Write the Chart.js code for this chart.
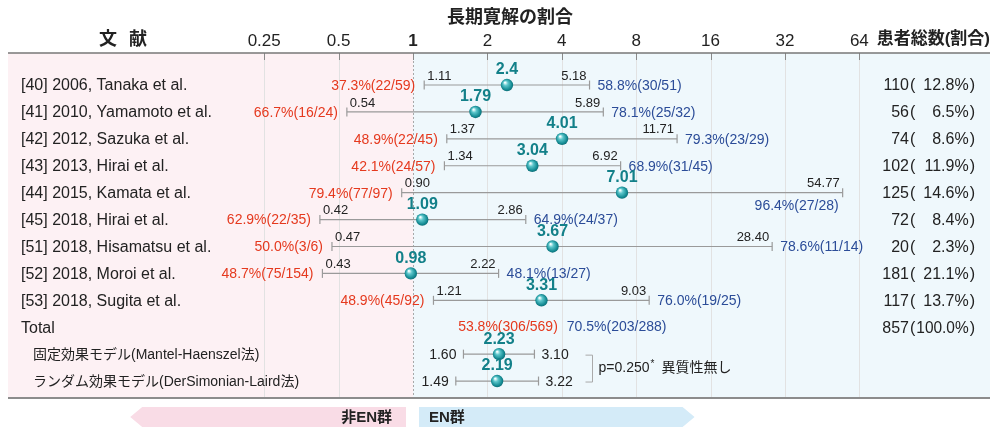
<!DOCTYPE html>
<html><head><meta charset="utf-8">
<script src="https://cdn.jsdelivr.net/npm/chart.js@4/dist/chart.umd.min.js"></script>
<style>html,body{margin:0;padding:0;background:#fff}canvas{display:block}</style>
</head><body>
<canvas id="c" width="1001" height="436"></canvas>
<script>
// ---- data ----
const studies = ['[40] 2006, Tanaka et al.', '[41] 2010, Yamamoto et al.', '[42] 2012, Sazuka et al.', '[43] 2013, Hirai et al.', '[44] 2015, Kamata et al.', '[45] 2018, Hirai et al.', '[51] 2018, Hisamatsu et al.', '[52] 2018, Moroi et al.', '[53] 2018, Sugita et al.'];
const oddsRatio = [2.4, 1.79, 4.01, 3.04, 7.01, 1.09, 3.67, 0.98, 3.31];
const ciLow = [1.11, 0.54, 1.37, 1.34, 0.90, 0.42, 0.47, 0.43, 1.21];
const ciHigh = [5.18, 5.89, 11.71, 6.92, 54.77, 2.86, 28.40, 2.22, 9.03];
const nonEnRate = ['37.3%(22/59)', '66.7%(16/24)', '48.9%(22/45)', '42.1%(24/57)', '79.4%(77/97)', '62.9%(22/35)', '50.0%(3/6)', '48.7%(75/154)', '48.9%(45/92)'];
const enRate = ['58.8%(30/51)', '78.1%(25/32)', '79.3%(23/29)', '68.9%(31/45)', '96.4%(27/28)', '64.9%(24/37)', '78.6%(11/14)', '48.1%(13/27)', '76.0%(19/25)'];
const patients = ['110', '56', '74', '102', '125', '72', '20', '181', '117'];
const patientShare = ['12.8%', '6.5%', '8.6%', '11.9%', '14.6%', '8.4%', '2.3%', '21.1%', '13.7%'];
const totalLabel = 'Total';
const totalPatients = '857';
const totalShare = '100.0%';
const totalNonEn = '53.8%(306/569)';
const totalEn = '70.5%(203/288)';
const models = ['固定効果モデル(Mantel-Haenszel法)', 'ランダム効果モデル(DerSimonian-Laird法)'];
const modelOR = [2.23, 2.19];
const modelLow = [1.60, 1.49];
const modelHigh = [3.10, 3.22];
const heterogeneity = 'p=0.250';
const heterogeneityNote = '異質性無し';
const xTicks = [0.25, 0.5, 1, 2, 4, 8, 16, 32, 64];
const title = '長期寛解の割合';
const colPatients = '患者総数(割合)';
const arrowLeft = '非EN群';
const arrowRight = 'EN群';

// ---- derived rows ----
const allOR = oddsRatio.concat(modelOR);
const allLow = ciLow.concat(modelLow);
const allHigh = ciHigh.concat(modelHigh);
const rowOf = i => (i < oddsRatio.length ? i : i + 1); // total row sits between studies and models
const totalRow = oddsRatio.length;

const FONT = '"Liberation Sans", "Noto Sans CJK JP", Arial, sans-serif';
const JFONT = '"Liberation Sans", "Noto Sans CJK JP", sans-serif';
const RED = '#e5391e', BLUE = '#2b4c98', TEAL = '#138089', INK = '#222';
const LINE = '#9a9a9a';

const datasets = [];
allOR.forEach((v, i) => {
  datasets.push({
    type: 'line', order: 3,
    data: [{x: allLow[i], y: rowOf(i)}, {x: allHigh[i], y: rowOf(i)}],
    borderColor: LINE, borderWidth: 1.2, pointRadius: 0, fill: false
  });
});
const caps = [];
allOR.forEach((v, i) => { caps.push({x: allLow[i], y: rowOf(i)}, {x: allHigh[i], y: rowOf(i)}); });
datasets.push({
  type: 'scatter', order: 2, data: caps,
  pointStyle: 'line', rotation: 90, pointRadius: 4.5, borderColor: LINE, borderWidth: 1.2
});
datasets.push({
  type: 'scatter', order: 1,
  data: allOR.map((v, i) => ({x: v, y: rowOf(i)})),
  pointRadius: 6.2, pointHoverRadius: 6.2, borderWidth: 0,
  backgroundColor: (ctx) => {
    const ch = ctx.chart;
    if (!ch.chartArea || !ctx.raw) return TEAL;
    const px = ch.scales.x.getPixelForValue(ctx.raw.x);
    const py = ch.scales.y.getPixelForValue(ctx.raw.y);
    const g = ch.ctx.createRadialGradient(px - 2, py - 2.5, 0.5, px, py, 7);
    g.addColorStop(0, '#f2ffff');
    g.addColorStop(0.3, '#5cc6cb');
    g.addColorStop(0.75, '#138a92');
    g.addColorStop(1, '#0a5f68');
    return g;
  }
});

const fmt2 = v => v.toFixed(2);

const deco = {
  id: 'deco',
  beforeDatasetsDraw(chart) {
    const {ctx, chartArea: a, scales: {x}} = chart;
    const one = x.getPixelForValue(1);
    ctx.save();
    ctx.fillStyle = '#fdf1f4';
    ctx.fillRect(a.left, a.top, one - a.left, a.bottom - a.top);
    ctx.fillStyle = '#eff8fc';
    ctx.fillRect(one, a.top, a.right - one, a.bottom - a.top);
    xTicks.forEach(t => {
      const px = Math.round(x.getPixelForValue(t)) + 0.5;
      ctx.beginPath();
      if (t === 1) { ctx.setLineDash([2, 2]); ctx.strokeStyle = '#a8a8a8'; }
      else { ctx.setLineDash([]); ctx.strokeStyle = '#e2e2e2'; }
      ctx.lineWidth = 1;
      ctx.moveTo(px, a.top); ctx.lineTo(px, a.bottom); ctx.stroke();
      ctx.setLineDash([]);
      ctx.strokeStyle = '#8a8a8a';
      ctx.beginPath(); ctx.moveTo(px, a.top); ctx.lineTo(px, a.top + 7); ctx.stroke();
    });
    ctx.strokeStyle = '#777'; ctx.lineWidth = 1.5;
    ctx.beginPath(); ctx.moveTo(a.left, a.top); ctx.lineTo(a.right, a.top); ctx.stroke();
    ctx.strokeStyle = '#8c8c8c'; ctx.lineWidth = 2;
    ctx.beginPath(); ctx.moveTo(a.left, a.bottom); ctx.lineTo(a.right, a.bottom); ctx.stroke();
    ctx.restore();
  },
  afterDatasetsDraw(chart) {
    const {ctx, chartArea: a, scales: {x, y}} = chart;
    ctx.save();
    ctx.textBaseline = 'middle';
    ctx.fillStyle = INK;
    ctx.font = 'bold 18px ' + JFONT; ctx.textAlign = 'center';
    ctx.fillText(title, 510, 18);
    ctx.fillText('文', 108, 40); ctx.fillText('献', 138, 40);
    ctx.font = 'bold 17px ' + JFONT; ctx.textAlign = 'right';
    ctx.fillText(colPatients, a.right, 39);
    ctx.textAlign = 'center';
    xTicks.forEach(t => {
      ctx.font = (t === 1 ? 'bold ' : '') + '17px ' + FONT;
      ctx.fillText(String(t), x.getPixelForValue(t), 41);
    });
    const parenX = a.right - 81, rightX = a.right - 15;
    const drawShare = (count, share, py) => {
      ctx.fillStyle = INK; ctx.font = '16px ' + FONT;
      ctx.textAlign = 'right'; ctx.fillText(count, parenX, py + 1);
      ctx.textAlign = 'left'; ctx.fillText('(', parenX + 1, py + 1);
      const lw = ctx.measureText('(').width;
      ctx.textAlign = 'right'; ctx.fillText(')', rightX, py + 1);
      const pw = ctx.measureText(')').width;
      const avail = (rightX - pw - 1) - (parenX + 1 + lw + 1);
      const sw = ctx.measureText(share).width;
      if (sw > avail) {
        const k = avail / sw;
        ctx.save();
        ctx.translate(rightX - pw - 1, py + 1);
        ctx.scale(k, 1);
        ctx.fillText(share, 0, 0);
        ctx.restore();
      } else {
        ctx.fillText(share, rightX - pw - 1, py + 1);
      }
    };
    studies.forEach((s, i) => {
      const py = y.getPixelForValue(rowOf(i));
      ctx.fillStyle = INK; ctx.font = '16px ' + FONT; ctx.textAlign = 'left';
      ctx.fillText(s, a.left + 13, py + 1);
      drawShare(patients[i], patientShare[i], py);
    });
    {
      const py = y.getPixelForValue(totalRow);
      ctx.fillStyle = INK; ctx.font = '16px ' + FONT; ctx.textAlign = 'left';
      ctx.fillText(totalLabel, a.left + 13, py + 1);
      drawShare(totalPatients, totalShare, py);
      const x4 = x.getPixelForValue(4);
      ctx.font = '14px ' + FONT;
      ctx.fillStyle = RED; ctx.textAlign = 'right'; ctx.fillText(totalNonEn, x4 - 4, py);
      ctx.fillStyle = BLUE; ctx.textAlign = 'left'; ctx.fillText(totalEn, x4 + 5, py);
    }
    models.forEach((m, k) => {
      const py = y.getPixelForValue(rowOf(oddsRatio.length + k));
      ctx.fillStyle = INK; ctx.font = '14px ' + JFONT; ctx.textAlign = 'left';
      ctx.fillText(m, a.left + 25, py + 1);
    });
    allOR.forEach((v, i) => {
      const py = y.getPixelForValue(rowOf(i));
      const pLo = x.getPixelForValue(allLow[i]);
      const pHi = x.getPixelForValue(allHigh[i]);
      const pV = x.getPixelForValue(v);
      ctx.fillStyle = TEAL; ctx.font = 'bold 16px ' + FONT; ctx.textAlign = 'center';
      ctx.fillText(String(v), pV, py - 15);
      ctx.fillStyle = INK; ctx.font = '13px ' + FONT;
      if (i < oddsRatio.length) {
        ctx.textAlign = 'left'; ctx.fillText(fmt2(allLow[i]), pLo + 3, py - 9);
        ctx.textAlign = 'right'; ctx.fillText(fmt2(allHigh[i]), pHi - 3, py - 9);
        ctx.font = '14px ' + FONT;
        ctx.fillStyle = RED; ctx.textAlign = 'right';
        ctx.fillText(nonEnRate[i], pLo - 9, py + 1);
        ctx.fillStyle = BLUE;
        const w = ctx.measureText(enRate[i]).width;
        if (pHi + 8 + w > a.right - 110) {
          ctx.textAlign = 'right'; ctx.fillText(enRate[i], pHi - 4, py + 13);
        } else {
          ctx.textAlign = 'left'; ctx.fillText(enRate[i], pHi + 8, py + 1);
        }
      } else {
        ctx.font = '14px ' + FONT;
        ctx.textAlign = 'right'; ctx.fillText(fmt2(allLow[i]), pLo - 7, py + 1);
        ctx.textAlign = 'left'; ctx.fillText(fmt2(allHigh[i]), pHi + 7, py + 1);
      }
    });
    {
      const y1 = y.getPixelForValue(rowOf(oddsRatio.length));
      const y2 = y.getPixelForValue(rowOf(oddsRatio.length + 1));
      const bx = Math.round(x.getPixelForValue(4) + 30) + 0.5;
      ctx.strokeStyle = '#aaa'; ctx.lineWidth = 1;
      ctx.beginPath(); ctx.moveTo(bx - 7, y1 + 1); ctx.lineTo(bx, y1 + 1); ctx.lineTo(bx, y2 + 1); ctx.lineTo(bx - 7, y2 + 1); ctx.stroke();
      const my = (y1 + y2) / 2 + 1;
      ctx.fillStyle = INK; ctx.textAlign = 'left'; ctx.font = '14px ' + FONT;
      ctx.fillText(heterogeneity, bx + 6, my);
      const w = ctx.measureText(heterogeneity).width;
      ctx.font = '10px ' + FONT; ctx.fillText('*', bx + 6 + w + 1, my - 4);
      ctx.font = '14px ' + JFONT; ctx.fillText(heterogeneityNote, bx + 6 + w + 12, my);
    }
    ctx.restore();
  },
  afterDraw(chart) {
    const {ctx, chartArea: a, scales: {x}} = chart;
    const one = x.getPixelForValue(1);
    const top = a.bottom + 9, bot = a.bottom + 29, mid = (top + bot) / 2;
    ctx.save();
    const lEnd = one - 7, lTip = x.getPixelForValue(0.25) - 134;
    ctx.fillStyle = '#f9dce6';
    ctx.beginPath(); ctx.moveTo(lTip, mid); ctx.lineTo(lTip + 12, top); ctx.lineTo(lEnd, top); ctx.lineTo(lEnd, bot); ctx.lineTo(lTip + 12, bot); ctx.closePath(); ctx.fill();
    const rStart = one + 6, rTip = x.getPixelForValue(16) - 16;
    ctx.fillStyle = '#d4ebf8';
    ctx.beginPath(); ctx.moveTo(rStart, top); ctx.lineTo(rTip - 12, top); ctx.lineTo(rTip, mid); ctx.lineTo(rTip - 12, bot); ctx.lineTo(rStart, bot); ctx.closePath(); ctx.fill();
    ctx.fillStyle = INK; ctx.font = 'bold 15px ' + JFONT; ctx.textBaseline = 'middle';
    ctx.textAlign = 'right'; ctx.fillText(arrowLeft, lEnd - 14, mid + 1);
    ctx.textAlign = 'left'; ctx.fillText(arrowRight, rStart + 10, mid + 1);
    ctx.restore();
  }
};

new Chart(document.getElementById('c'), {
  type: 'scatter',
  data: {datasets},
  options: {
    responsive: false, animation: false, devicePixelRatio: 1,
    layout: {padding: {left: 8, right: 11, top: 53, bottom: 38}},
    plugins: {legend: {display: false}, tooltip: {enabled: false}},
    events: [],
    scales: {
      x: {type: 'logarithmic', display: false, min: Math.pow(2, -5.444), max: Math.pow(2, 7.756)},
      y: {type: 'linear', display: false, reverse: true, min: -1.19, max: 11.63}
    }
  },
  plugins: [deco]
});
</script>
</body></html>
